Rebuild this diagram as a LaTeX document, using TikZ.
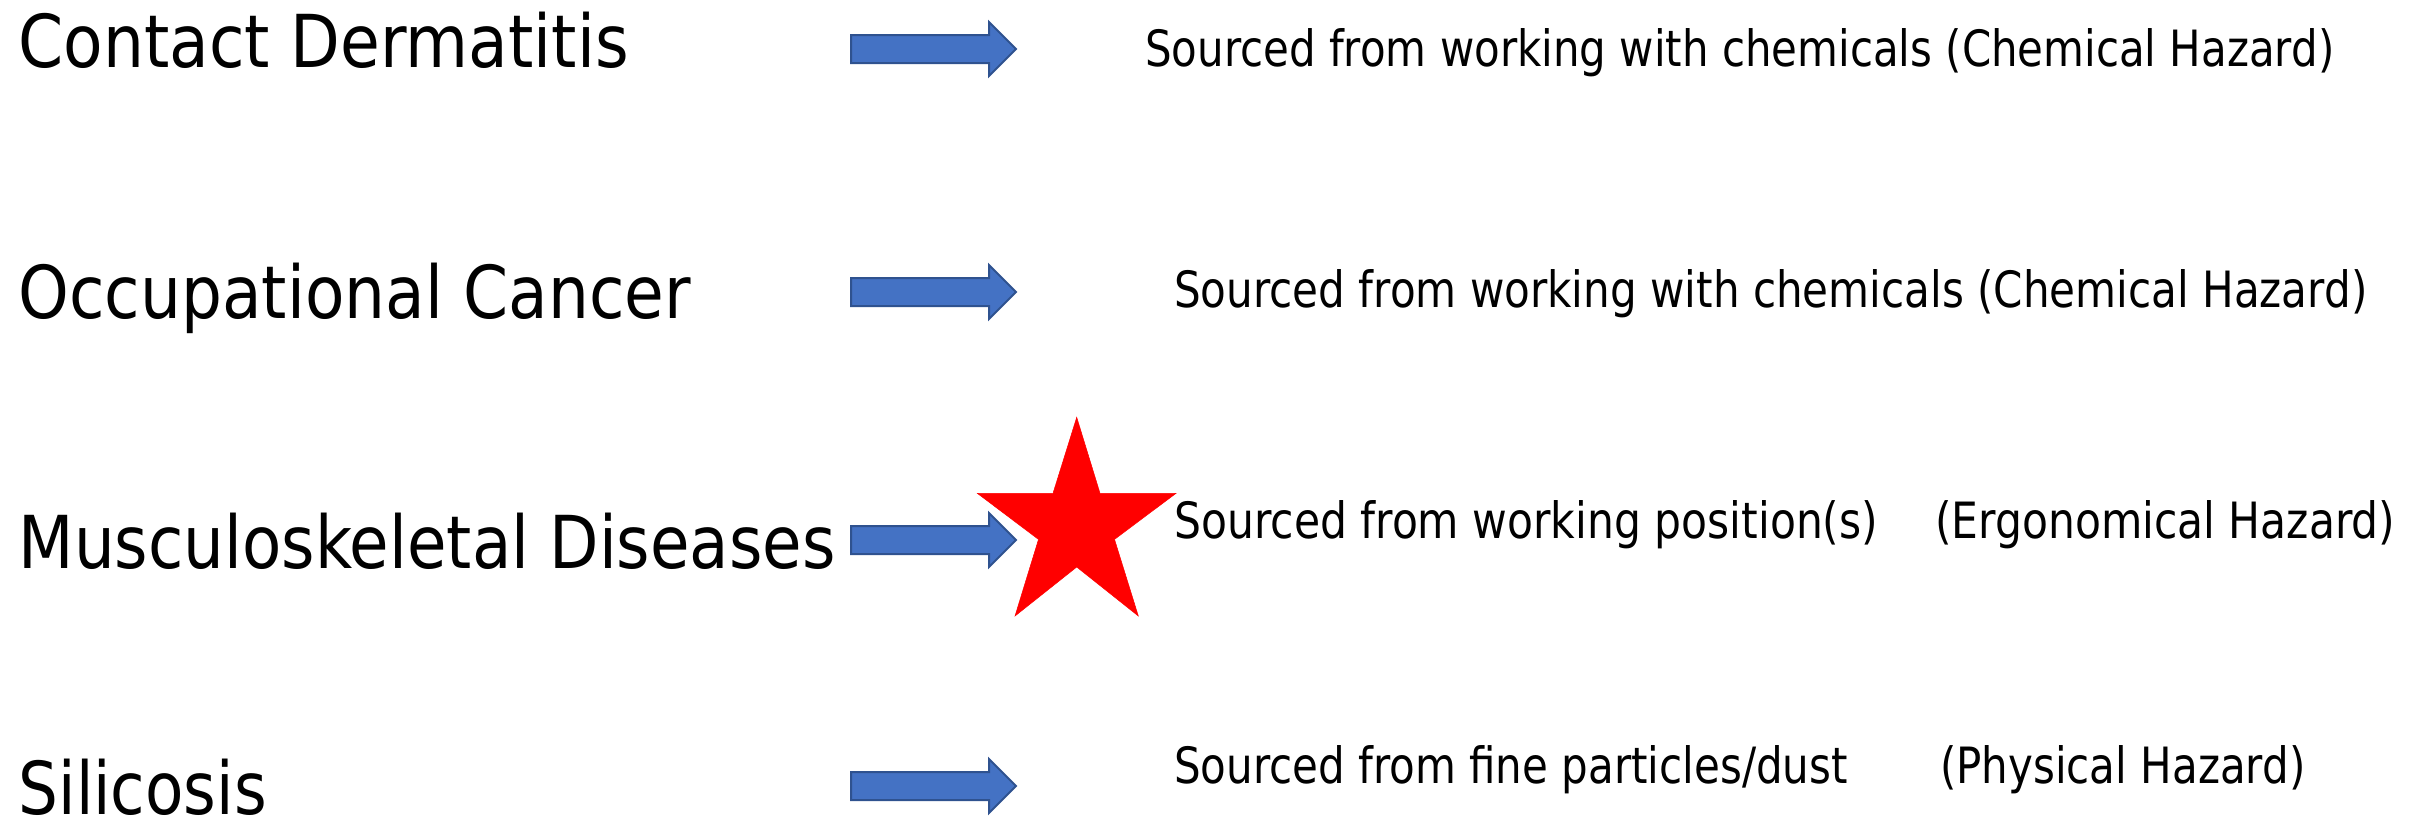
\documentclass[tikz,border=0pt]{standalone}
\usepackage{fontspec}
\setmainfont{DejaVu Sans}
\usepackage{graphicx}
\definecolor{arrowblue}{HTML}{4472C4}
\definecolor{arrowedge}{HTML}{2F528F}
\newcommand\fitw[2]{\resizebox{#1pt}{\height}{#2}}
\tikzset{
  lbl/.style={anchor=base west, inner sep=0pt, font=\fontsize{73}{80}\selectfont},
  src/.style={anchor=base west, inner sep=0pt, font=\fontsize{50}{56}\selectfont},
  blk/.style={fill=arrowblue, draw=arrowedge, line width=2pt, line join=miter},
  starfill/.style={fill=red, draw=red, line width=0.5pt},
  pics/blockarrow/.style={code={
    \path[blk] (0,-14) -- (138,-14) -- (138,-27) -- (165,0) -- (138,27) -- (138,14) -- (0,14) -- cycle;}}
}
\begin{document}
\begin{tikzpicture}[x=1pt,y=-1pt]
\useasboundingbox (0,0) rectangle (2424,822);
% left labels
\node[lbl] (l1) at (18.5,67) {\fitw{610}{Contact Dermatitis}};
\node[lbl] (l2) at (18.5,318) {\fitw{672}{Occupational Cancer}};
\node[lbl] (l3) at (18.5,568) {\fitw{817}{Musculoskeletal Diseases}};
\node[lbl] (l4) at (18.5,814) {\fitw{248}{Silicosis}};
% arrows
\pic at (851,49) {blockarrow};
\pic at (851,292) {blockarrow};
\pic at (851,540) {blockarrow};
\pic at (851,786) {blockarrow};
% star
\path[starfill] (1076.7,417.3) -- (1100,493.3) -- (1176,493.3) -- (1114.5,539.4)
  -- (1138.3,616) -- (1076.7,567) -- (1015,616) -- (1038.5,539.4)
  -- (977.3,493.3) -- (1053,493.3) -- cycle;
% right texts
\node[src] (r1) at (1145,66) {\fitw{1189}{Sourced from working with chemicals (Chemical Hazard)}};
\node[src] (r2) at (1174,307) {\fitw{1193}{Sourced from working with chemicals (Chemical Hazard)}};
\node[src] (r3) at (1174,538) {\fitw{1221}{Sourced from working position(s)\hspace{67pt}(Ergonomical Hazard)}};
\node[src] (r4) at (1174,783) {\fitw{1131}{Sourced from fine particles/dust\hspace{110pt}(Physical Hazard)}};
\end{tikzpicture}
\end{document}
